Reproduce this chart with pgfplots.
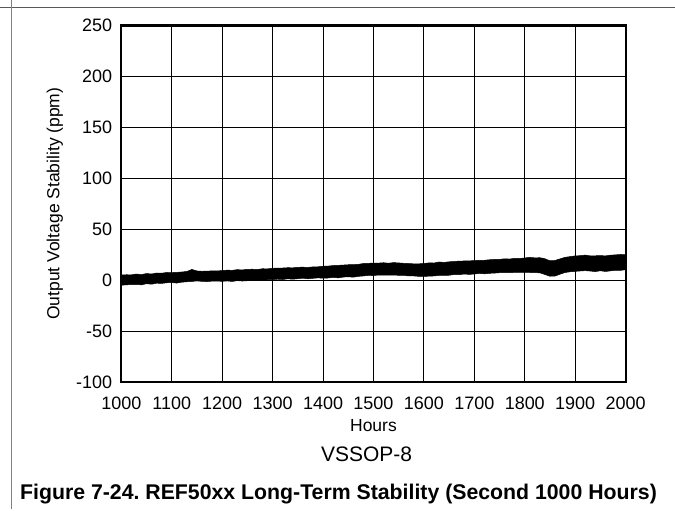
\documentclass[border=0pt]{standalone}
\usepackage{fontspec}
\setmainfont{Liberation Sans}
\usepackage{pgfplots}
\usepackage{pgfplotstable}
\pgfplotsset{compat=1.18}
\usepgfplotslibrary{fillbetween}

% upper and lower edge of the drift band (ppm)
\pgfplotstableread{
hours hi lo
1000 5.0 -5.0
1010 5.3 -4.6
1020 5.2 -4.4
1030 6.0 -4.3
1040 5.4 -4.6
1050 6.5 -3.5
1060 6.0 -4.0
1070 7.0 -3.0
1080 6.8 -3.2
1090 7.5 -2.6
1100 7.4 -2.4
1110 7.6 -2.9
1120 8.0 -2.0
1130 8.5 -1.6
1140 10.5 -1.3
1150 9.0 -0.8
1160 8.7 -1.2
1170 8.8 -1.4
1180 9.1 -1.0
1190 9.0 -0.9
1200 9.4 -1.2
1210 9.8 -0.8
1220 9.6 -1.3
1230 10.3 -0.5
1240 10.0 -0.9
1250 10.6 -0.6
1260 10.7 -0.2
1270 10.4 -0.6
1280 11.2 0.1
1290 11.1 0.4
1300 11.6 0.5
1310 11.8 0.9
1320 11.9 0.6
1330 12.2 1.3
1340 12.1 0.9
1350 12.6 1.4
1360 12.7 1.9
1370 12.5 1.3
1380 13.0 1.8
1390 13.1 2.2
1400 13.6 1.9
1410 13.8 2.1
1420 14.3 2.7
1430 14.5 2.2
1440 14.8 3.0
1450 15.1 3.3
1460 15.2 2.9
1470 15.5 3.7
1480 16.3 4.1
1490 16.5 4.6
1500 16.8 4.5
1510 16.7 5.0
1520 17.1 4.9
1530 16.6 4.8
1540 17.2 5.0
1550 16.9 4.7
1560 16.5 4.7
1570 16.3 4.1
1580 16.0 4.1
1590 16.0 3.7
1600 16.4 3.6
1610 16.9 3.9
1620 16.8 4.1
1630 17.8 4.6
1640 17.4 4.6
1650 18.0 4.8
1660 18.3 5.5
1670 18.7 5.4
1680 18.8 6.0
1690 18.9 5.6
1700 19.2 6.0
1710 19.4 6.6
1720 19.5 6.2
1730 20.0 6.7
1740 20.3 6.9
1750 20.4 7.3
1760 20.9 7.4
1770 20.7 7.3
1780 21.4 7.6
1790 21.2 7.5
1800 21.8 7.6
1810 22.3 7.5
1820 21.9 7.3
1830 22.0 7.2
1840 21.0 5.5
1850 19.0 3.8
1860 19.3 4.0
1870 20.9 5.8
1880 22.4 7.5
1890 23.1 8.2
1900 23.8 8.6
1910 24.0 9.0
1920 24.6 9.3
1930 23.8 8.9
1940 23.9 8.4
1950 24.1 9.2
1960 23.8 8.5
1970 24.5 9.1
1980 24.8 9.7
1990 25.2 9.6
2000 25.0 10.2
}\stability

\begin{document}
\begin{tikzpicture}
\draw[gray!70!black, line width=0.9pt] (-121pt,375pt) -- (554pt,375pt);
\draw[gray, line width=1pt] (-110pt,382pt) -- (-110pt,-127pt);
\begin{axis}[
    scale only axis,
    width=505pt, height=357pt,
    xmin=1000, xmax=2000,
    ymin=-100, ymax=250,
    xtick={1000,1100,...,2000},
    ytick={-100,-50,...,250},
    grid=major,
    major grid style={black, line width=0.8pt},
    major tick length=0pt,
    axis line style={line width=2.2pt},
    /pgf/number format/assume math mode=true,
    /pgf/number format/1000 sep={},
    tick label style={font=\fontsize{18}{21}\selectfont, inner sep=0pt},
    xticklabel style={anchor=base, yshift=-28pt},
    yticklabel style={anchor=east, xshift=-9pt},
    xlabel={Hours},
    ylabel={Output Voltage Stability (ppm)},
    label style={font=\fontsize{17.5}{21}\selectfont},
    xlabel style={at={(axis description cs:0.5,-0.14)}, anchor=base},
    ylabel style={at={(axis description cs:-0.1228,0.5)}, anchor=base},
]
\addplot[draw=black, line width=0.5pt, name path=hi] table[x=hours, y=hi] {\stability};
\addplot[draw=black, line width=0.5pt, name path=lo] table[x=hours, y=lo] {\stability};
\addplot[black] fill between[of=hi and lo];
\end{axis}
\node[anchor=base, font=\fontsize{21}{25}\selectfont] at (245.7pt,-80pt) {VSSOP-8};
\node[anchor=base, font=\bfseries\fontsize{21.3}{25}\selectfont] at (217.5pt,-118pt)
    {\frenchspacing Figure 7-24. REF50xx Long-Term Stability (Second 1000 Hours)};
\path (-121pt,-129pt) rectangle (554pt,382pt);
\end{tikzpicture}
\end{document}
